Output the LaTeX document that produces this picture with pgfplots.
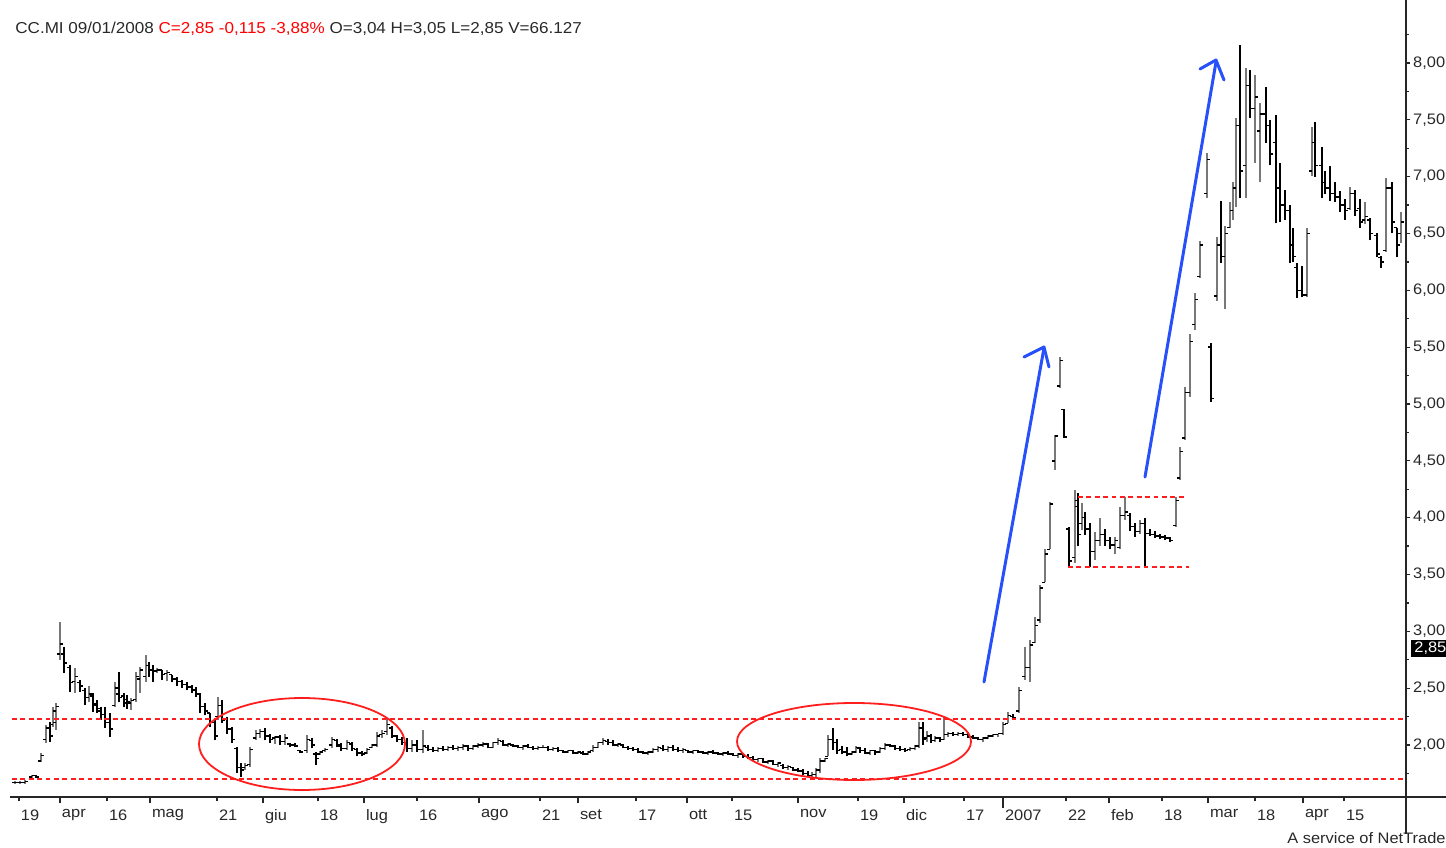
\documentclass[border=0pt]{standalone}
\usepackage{fontspec}
\setmainfont[FakeStretch=1.08]{Liberation Sans}
\usepackage{pgfplots}
\pgfplotsset{compat=1.18}
\usepackage{pgfplotstable}
\definecolor{upgray}{RGB}{120,120,120}
\definecolor{hdr}{RGB}{40,40,40}
\definecolor{ann}{RGB}{255,30,30}
\definecolor{arr}{RGB}{40,80,250}
\pgfdeclareplotmark{otick}{\pgfpathmoveto{\pgfqpoint{-1.6pt}{0pt}}\pgfpathlineto{\pgfqpoint{0pt}{0pt}}\pgfusepathqstroke}
\pgfdeclareplotmark{ctick}{\pgfpathmoveto{\pgfqpoint{0pt}{0pt}}\pgfpathlineto{\pgfqpoint{1.6pt}{0pt}}\pgfusepathqstroke}

\pgfplotstableread{
x o h l c
15 1.67 1.68 1.66 1.67
20 1.67 1.68 1.66 1.67
25 1.67 1.69 1.66 1.68
32 1.72 1.74 1.71 1.73
36 1.73 1.74 1.71 1.72
41 1.86 1.93 1.85 1.91
46 2.05 2.18 2.02 2.15
50 2.15 2.20 2.03 2.08
53 2.18 2.33 2.16 2.30
56 2.20 2.37 2.13 2.34
60 2.80 3.08 2.75 2.89
64 2.80 2.86 2.63 2.72
70 2.68 2.70 2.47 2.55
75 2.56 2.68 2.46 2.60
80 2.55 2.57 2.47 2.52
85 2.48 2.50 2.35 2.42
89 2.42 2.52 2.38 2.45
93 2.43 2.46 2.29 2.35
97 2.36 2.40 2.28 2.32
101 2.30 2.33 2.22 2.27
105 2.27 2.33 2.15 2.20
110 2.20 2.28 2.07 2.14
115 2.35 2.55 2.33 2.50
119 2.45 2.64 2.38 2.42
124 2.43 2.46 2.33 2.37
127 2.40 2.44 2.32 2.38
131 2.37 2.41 2.31 2.39
136 2.40 2.64 2.38 2.60
140 2.58 2.69 2.46 2.66
146 2.60 2.79 2.55 2.70
149 2.70 2.73 2.60 2.66
153 2.66 2.70 2.55 2.65
157 2.65 2.68 2.63 2.66
162 2.66 2.66 2.57 2.62
167 2.63 2.66 2.56 2.64
172 2.62 2.62 2.55 2.58
177 2.58 2.60 2.52 2.56
182 2.56 2.57 2.50 2.53
187 2.53 2.55 2.48 2.51
192 2.51 2.53 2.46 2.49
196 2.48 2.51 2.42 2.45
200 2.45 2.46 2.28 2.34
205 2.34 2.37 2.26 2.30
210 2.28 2.28 2.16 2.20
215 2.20 2.22 2.04 2.08
218 2.25 2.42 2.22 2.35
222 2.35 2.40 2.19 2.22
227 2.23 2.25 2.10 2.14
232 2.14 2.16 2.02 2.05
237 1.97 1.98 1.75 1.80
241 1.80 1.84 1.72 1.78
245 1.80 1.84 1.78 1.82
250 1.83 1.98 1.81 1.96
256 2.06 2.13 2.04 2.10
260 2.10 2.14 2.06 2.12
265 2.12 2.15 2.04 2.08
270 2.08 2.10 2.02 2.05
275 2.06 2.08 2.01 2.07
280 2.07 2.09 2.00 2.03
285 2.03 2.10 2.00 2.06
290 2.01 2.02 1.98 2.00
295 2.00 2.02 1.98 1.99
300 1.95 1.96 1.93 1.94
307 1.95 2.09 1.93 2.05
312 2.04 2.06 1.97 2.00
316 1.92 1.94 1.82 1.88
320 1.92 1.95 1.91 1.94
325 1.95 1.97 1.94 1.96
332 2.00 2.07 1.97 2.05
337 2.04 2.05 1.98 2.00
341 1.99 2.02 1.95 1.97
347 1.97 2.04 1.96 2.02
352 2.01 2.03 1.95 1.97
357 1.96 1.97 1.90 1.93
362 1.93 1.95 1.90 1.92
367 1.93 1.97 1.92 1.96
372 1.98 2.01 1.97 2.00
377 2.00 2.11 1.98 2.08
382 2.09 2.13 2.06 2.10
387 2.12 2.24 2.09 2.18
392 2.15 2.17 2.06 2.08
397 2.08 2.09 2.03 2.05
402 2.05 2.07 2.00 2.02
407 2.02 2.06 1.94 1.97
412 1.97 2.04 1.94 2.00
417 2.00 2.04 1.94 1.96
423 1.96 2.13 1.93 1.99
428 1.98 2.00 1.95 1.96
433 1.96 1.98 1.94 1.95
438 1.95 1.98 1.94 1.97
443 1.97 1.99 1.95 1.96
448 1.96 1.99 1.95 1.98
453 1.98 2.00 1.96 1.97
458 1.97 1.99 1.95 1.98
463 1.98 2.01 1.96 1.99
468 1.99 2.00 1.95 1.97
473 1.97 2.00 1.96 1.99
478 1.99 2.02 1.97 2.00
483 2.00 2.03 1.98 2.01
488 2.01 2.02 1.97 1.98
493 1.98 2.03 1.97 2.02
498 2.02 2.06 2.00 2.04
503 2.03 2.04 1.99 2.00
508 2.00 2.02 1.98 2.01
513 2.00 2.01 1.98 1.99
518 1.99 2.00 1.97 1.98
523 1.98 2.00 1.96 1.99
528 1.99 2.01 1.97 1.98
533 1.98 1.99 1.96 1.97
538 1.97 1.99 1.96 1.98
543 1.98 2.00 1.97 1.98
548 1.98 1.99 1.95 1.96
553 1.96 1.98 1.95 1.97
558 1.97 1.98 1.94 1.95
563 1.95 1.96 1.93 1.94
568 1.94 1.96 1.93 1.95
573 1.95 1.96 1.92 1.93
578 1.93 1.95 1.92 1.94
583 1.93 1.95 1.91 1.92
588 1.92 1.95 1.91 1.94
593 1.95 2.00 1.94 1.98
598 1.98 2.03 1.97 2.02
603 2.02 2.06 2.00 2.04
608 2.03 2.05 2.00 2.02
613 2.02 2.04 1.99 2.00
618 2.00 2.02 1.98 2.01
623 2.00 2.01 1.97 1.98
628 1.98 1.99 1.96 1.97
633 1.97 1.98 1.95 1.96
638 1.96 1.97 1.93 1.94
643 1.94 1.95 1.92 1.93
648 1.93 1.95 1.91 1.94
653 1.94 1.97 1.93 1.96
658 1.96 1.99 1.94 1.98
663 1.97 2.00 1.95 1.96
668 1.96 1.99 1.94 1.98
673 1.98 2.00 1.95 1.96
678 1.96 1.98 1.94 1.95
683 1.95 1.97 1.93 1.96
688 1.95 1.96 1.93 1.94
693 1.94 1.96 1.92 1.95
698 1.95 1.96 1.93 1.94
703 1.94 1.95 1.92 1.93
708 1.93 1.95 1.91 1.94
713 1.94 1.96 1.92 1.93
718 1.93 1.94 1.91 1.92
723 1.92 1.94 1.90 1.93
728 1.93 1.95 1.91 1.92
733 1.92 1.93 1.90 1.91
738 1.91 1.93 1.89 1.92
743 1.92 1.93 1.89 1.90
748 1.90 1.92 1.88 1.89
753 1.89 1.90 1.86 1.87
758 1.87 1.89 1.85 1.88
763 1.88 1.89 1.84 1.85
768 1.85 1.87 1.83 1.86
773 1.86 1.87 1.82 1.83
778 1.83 1.85 1.81 1.84
783 1.82 1.83 1.79 1.80
788 1.80 1.82 1.78 1.81
793 1.80 1.81 1.77 1.78
798 1.78 1.80 1.76 1.77
803 1.77 1.79 1.74 1.75
808 1.75 1.77 1.72 1.73
812 1.73 1.76 1.70 1.74
816 1.74 1.80 1.72 1.78
820 1.78 1.89 1.75 1.86
825 1.86 1.89 1.85 1.88
828 1.90 2.09 1.90 2.05
833 2.05 2.15 1.96 2.02
837 2.02 2.05 1.92 1.95
842 1.96 1.99 1.92 1.94
847 1.94 1.98 1.90 1.92
852 1.92 1.95 1.91 1.94
856 1.94 1.99 1.93 1.98
860 1.97 1.98 1.93 1.95
865 1.95 1.97 1.92 1.93
870 1.93 1.96 1.91 1.95
875 1.95 1.96 1.91 1.94
880 1.94 1.98 1.93 1.97
885 1.97 2.02 1.96 2.00
890 2.00 2.01 1.98 1.99
895 1.99 2.00 1.96 1.97
900 1.97 1.99 1.95 1.96
905 1.96 1.97 1.94 1.95
910 1.96 1.98 1.95 1.97
915 1.97 2.00 1.96 1.99
919 1.99 2.20 1.97 2.15
923 2.15 2.20 2.00 2.05
927 2.06 2.12 2.03 2.08
931 2.08 2.10 2.02 2.04
935 2.04 2.08 2.03 2.06
940 2.06 2.07 2.03 2.05
944 2.05 2.25 2.04 2.09
948 2.09 2.11 2.07 2.10
953 2.10 2.11 2.08 2.09
958 2.09 2.11 2.08 2.10
963 2.10 2.11 2.08 2.09
968 2.09 2.11 2.06 2.07
973 2.07 2.09 2.05 2.06
978 2.06 2.07 2.04 2.05
983 2.05 2.07 2.03 2.06
988 2.06 2.09 2.05 2.08
993 2.08 2.10 2.07 2.09
998 2.09 2.10 2.07 2.10
1003 2.10 2.20 2.09 2.18
1008 2.19 2.29 2.19 2.26
1013 2.25 2.27 2.22 2.24
1019 2.30 2.51 2.28 2.48
1025 2.60 2.86 2.57 2.68
1030 2.68 2.92 2.55 2.88
1035 2.90 3.13 2.90 3.05
1040 3.10 3.41 3.07 3.38
1045 3.43 3.72 3.43 3.68
1050 3.72 4.14 3.72 4.12
1055 4.50 4.73 4.42 4.72
1060 5.16 5.41 5.14 5.38
1064 4.95 4.96 4.70 4.71
1069 3.90 3.92 3.56 3.62
1075 3.65 4.24 3.60 4.10
1078 4.15 4.22 3.75 3.85
1082 3.95 4.13 3.89 4.00
1085 4.00 4.05 3.85 3.90
1090 3.90 3.95 3.57 3.70
1095 3.70 3.87 3.63 3.80
1100 3.80 4.00 3.75 3.85
1105 3.85 3.90 3.75 3.80
1110 3.80 3.83 3.72 3.76
1115 3.76 3.83 3.68 3.80
1120 3.74 4.09 3.72 4.02
1125 4.02 4.18 3.98 4.05
1130 4.02 4.04 3.88 3.92
1135 3.92 3.95 3.83 3.88
1140 3.88 3.98 3.86 3.95
1145 3.95 4.00 3.57 3.86
1150 3.86 3.90 3.84 3.85
1155 3.85 3.88 3.82 3.84
1160 3.84 3.86 3.81 3.83
1165 3.83 3.85 3.80 3.82
1170 3.82 3.83 3.79 3.80
1176 3.93 4.18 3.92 4.15
1180 4.35 4.62 4.33 4.58
1185 4.70 5.15 4.68 5.10
1190 5.10 5.62 5.06 5.55
1195 5.70 5.98 5.65 5.92
1200 6.12 6.43 6.11 6.40
1207 6.85 7.21 6.81 7.15
1211 5.50 5.54 5.02 5.05
1217 5.95 6.47 5.91 6.40
1221 6.40 6.79 6.24 6.30
1225 6.30 6.57 5.84 6.50
1230 6.55 6.78 6.55 6.70
1233 6.70 6.95 6.62 6.90
1236 6.90 7.52 6.73 7.45
1240 7.45 8.16 6.81 7.05
1246 7.10 7.96 6.81 7.80
1250 7.80 7.94 7.52 7.60
1255 7.60 7.89 7.12 7.70
1260 7.40 7.65 6.95 7.55
1266 7.55 7.79 7.30 7.45
1270 7.45 7.50 7.10 7.20
1276 7.30 7.54 6.59 6.90
1280 6.90 7.12 6.60 6.75
1285 6.75 6.88 6.62 6.70
1290 6.70 6.75 6.24 6.40
1293 6.40 6.55 6.25 6.30
1297 6.20 6.24 5.93 6.00
1302 6.00 6.21 5.94 5.96
1307 5.96 6.55 5.94 6.50
1312 7.05 7.44 7.01 7.30
1315 7.30 7.48 7.00 7.10
1322 7.10 7.26 6.81 6.95
1325 6.95 7.05 6.85 6.90
1330 6.90 7.09 6.79 6.85
1335 6.85 6.95 6.78 6.82
1340 6.82 6.87 6.69 6.75
1345 6.75 6.80 6.62 6.70
1350 6.72 6.91 6.71 6.85
1355 6.85 6.88 6.65 6.70
1360 6.72 6.80 6.55 6.60
1365 6.62 6.78 6.58 6.65
1370 6.62 6.64 6.44 6.50
1377 6.48 6.50 6.29 6.32
1381 6.29 6.30 6.20 6.25
1386 6.35 6.99 6.34 6.90
1392 6.90 6.95 6.50 6.60
1397 6.55 6.55 6.29 6.40
1401 6.50 6.69 6.42 6.60
}\bars

\begin{document}
\fontsize{7.6}{9}\selectfont
\begin{tikzpicture}
\begin{axis}[
  scale only axis, width=698pt, height=398.5pt,
  at={(0,0)}, anchor=south west,
  xmin=10, xmax=1406, ymin=1.5425, ymax=8.554,
  axis x line*=bottom, axis y line*=right,
  x axis line style={-, line width=0.8pt, black!85},
  y axis line style={-, line width=0.8pt, black!85},
  clip=false,
  xtick={19,60,107,150,217,263,318,364,417,479,540,578,636,687,732,798,858,904,964,1003,1066,1109,1162,1208,1255,1303,1344},
  xticklabels={19,apr,16,mag,21,giu,18,lug,16,ago,21,set,17,ott,15,nov,19,dic,17,2007,22,feb,18,mar,18,apr,15},
  extra x ticks={60,150,263,364,479,578,687,798,904,1109,1208,1303},
  extra x tick labels={},
  extra x tick style={major tick length=3.2pt},
  xtick align=outside, ytick align=outside,
  major tick length=2.2pt, minor tick length=1.4pt,
  tick style={black!85, line width=0.6pt},
  xticklabel style={anchor=north west, inner sep=0pt, xshift=0.8pt, yshift=-4pt, text=hdr},
  ytick={2,2.5,3,3.5,4,4.5,5,5.5,6,6.5,7,7.5,8},
  minor ytick={1.75,2.25,2.75,3.25,3.75,4.25,4.75,5.25,5.75,6.25,6.75,7.25,7.75,8.25},
  yticklabel style={anchor=west, inner sep=0pt, xshift=1.2pt, text=hdr},
  yticklabel={\pgfmathprintnumber[fixed, fixed zerofill, precision=2, use comma, assume math mode=true]{\tick}},
]
% vertical high-low bars: up bars gray, down bars black
\addplot[draw=none, mark=none, forget plot,
  restrict expr to domain={\thisrow{c}-\thisrow{o}}{0:100},
  error bars/.cd, y dir=plus, y explicit, error mark=none,
  error bar style={draw=upgray, line width=1pt}]
  table[x=x, y=l, y error plus expr=\thisrow{h}-\thisrow{l}] {\bars};
\addplot[draw=none, mark=none, forget plot,
  restrict expr to domain={\thisrow{c}-\thisrow{o}}{-100:-0.001},
  error bars/.cd, y dir=plus, y explicit, error mark=none,
  error bar style={draw=black, line width=1pt}]
  table[x=x, y=l, y error plus expr=\thisrow{h}-\thisrow{l}] {\bars};
% open ticks (left) and close ticks (right)
\addplot[only marks, mark=otick, mark options={draw=black, line width=0.7pt}, forget plot]
  table[x=x, y=o] {\bars};
\addplot[only marks, mark=ctick, mark options={draw=black, line width=0.7pt}, forget plot]
  table[x=x, y=c] {\bars};
\end{axis}

% annotations in image pixel coordinates
\begin{scope}[x=0.5pt, y=-0.5pt, shift={(-5pt,398.5pt)}]
  % axis line extensions
  \draw[line width=0.8pt, black!85] (1406,797) -- (1446,797);
  \draw[line width=0.8pt, black!85] (1406,797) -- (1406,834);
  \draw[line width=0.8pt, black!85] (1003,797) -- (1003,808);
  % red dashed support lines
  \draw[ann, line width=0.8pt, dash pattern=on 2.4pt off 1.8pt] (12,719) -- (1404,719);
  \draw[ann, line width=0.8pt, dash pattern=on 2.4pt off 1.8pt] (12,779) -- (1404,779);
  \draw[ann, line width=0.8pt, dash pattern=on 2.4pt off 1.8pt] (1078,497) -- (1184,497);
  \draw[ann, line width=0.8pt, dash pattern=on 2.4pt off 1.8pt] (1068,567) -- (1189,567);
  % ellipses
  \draw[ann, line width=0.9pt] (302,744) ellipse [x radius=103, y radius=46];
  \draw[ann, line width=0.9pt] (854,741.5) ellipse [x radius=117, y radius=38.5];
  % blue arrows
  \draw[arr, line width=1.5pt, line cap=round, line join=round] (984,682) -- (1044,348);
  \draw[arr, line width=1.5pt, line cap=round, line join=round] (1024,357) -- (1044,347) -- (1049,367);
  \draw[arr, line width=1.5pt, line cap=round, line join=round] (1145,477) -- (1216,62);
  \draw[arr, line width=1.5pt, line cap=round, line join=round] (1200,69) -- (1216,60) -- (1224,80);
  % header
  \node[anchor=west, inner sep=0pt, font=\fontsize{7.9}{9}\selectfont] at (15,29) {\textcolor{hdr}{CC.MI 09/01/2008}\ \textcolor{red}{C=2,85 -0,115 -3,88\%}\ \textcolor{hdr}{O=3,04 H=3,05 L=2,85 V=66.127}};
  % last price box
  \fill[black] (1411,640) rectangle (1450,657);
  \node[anchor=west, inner sep=0pt, text=white] at (1414,648.5) {2,85};
  % service note
  \node[anchor=west, inner sep=0pt, text=hdr] at (1287,838) {A service of NetTrader};
\end{scope}
\pgfresetboundingbox
\path[use as bounding box] (-5pt,-25pt) rectangle (718pt,398.5pt);
\end{tikzpicture}
\end{document}
